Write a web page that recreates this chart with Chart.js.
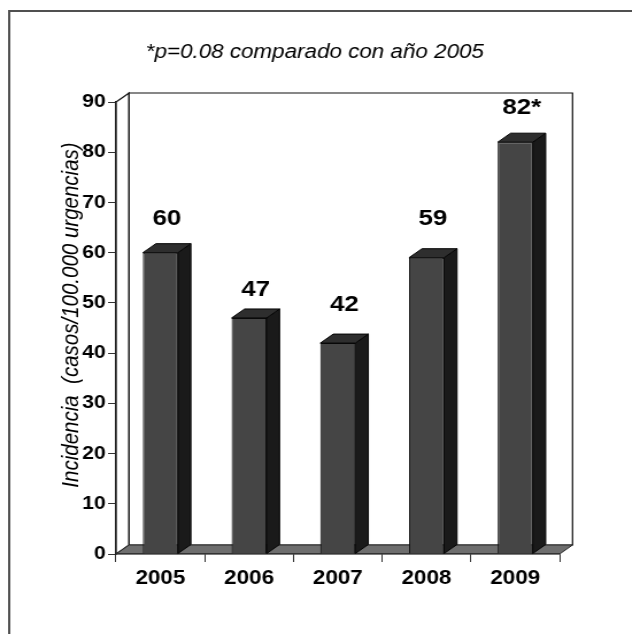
<!DOCTYPE html>
<html>
<head>
<meta charset="utf-8">
<script src="https://cdn.jsdelivr.net/npm/chart.js@4.4.1/dist/chart.umd.min.js"></script>
<style>
  html, body { margin: 0; padding: 0; background: #fff; overflow: hidden; }
  #wrap { width: 550px; height: 634px; transform: scaleX(1.149); transform-origin: 0 0; }
  canvas { display: block; }
</style>
</head>
<body>
<div id="wrap"><canvas id="c" width="550" height="634"></canvas></div>
<script>
// Incidence per year
const years = ['2005', '2006', '2007', '2008', '2009'];
const incidence = [60, 47, 42, 59, 82];
const significance = ['', '', '', '', '*'];

// Value axis
const yMin = 0;
const yMax = 90;
const yStep = 10;

const noteText = '*p=0.08 comparado con año 2005';
const yTitleText = 'Incidencia  (casos/100.000 urgencias)';

// 3D look
const DX = 11.3, DY = -9;
const labelLift = [34, 28, 38, 39, 34];
const FONT = '"Liberation Sans", Arial, sans-serif';

function poly(ctx, pts, fill, stroke, lw) {
  ctx.beginPath();
  ctx.moveTo(pts[0][0], pts[0][1]);
  for (let i = 1; i < pts.length; i++) ctx.lineTo(pts[i][0], pts[i][1]);
  ctx.closePath();
  if (fill) { ctx.fillStyle = fill; ctx.fill(); }
  if (stroke) { ctx.strokeStyle = stroke; ctx.lineWidth = lw || 1; ctx.stroke(); }
}

const box3d = {
  id: 'box3d',
  beforeDraw(chart) {
    const { ctx, chartArea: a } = chart;
    ctx.save();
    ctx.fillStyle = '#fff';
    ctx.fillRect(0, 0, chart.width, chart.height);

    // page frame
    ctx.strokeStyle = '#505050';
    ctx.lineWidth = 2;
    ctx.beginPath();
    ctx.moveTo(8, chart.height + 5);
    ctx.lineTo(8, 11);
    ctx.lineTo(chart.width + 5, 11);
    ctx.stroke();

    // note above the plot
    ctx.fillStyle = '#000';
    ctx.font = 'italic 19.5px ' + FONT;
    ctx.textAlign = 'center';
    ctx.textBaseline = 'middle';
    ctx.fillText(noteText, 274, 53);

    // value axis title
    ctx.save();
    ctx.translate(62.6, 315);
    ctx.rotate(-Math.PI / 2);
    ctx.font = 'italic 20.5px ' + FONT;
    ctx.fillText(yTitleText, 0, 0);
    ctx.restore();

    // side wall
    poly(ctx, [[a.left, a.top], [a.left + DX, a.top + DY], [a.left + DX, a.bottom + DY], [a.left, a.bottom]], '#fff', '#111', 1.2);
    // back wall
    poly(ctx, [[a.left + DX, a.top + DY], [a.right + DX, a.top + DY], [a.right + DX, a.bottom + DY], [a.left + DX, a.bottom + DY]], '#fff', '#111', 1.2);
    // floor
    poly(ctx, [[a.left, a.bottom], [a.right, a.bottom], [a.right + DX, a.bottom + DY], [a.left + DX, a.bottom + DY]], '#6e6e6e', '#2a2a2a', 1);
    ctx.restore();
  },
  afterDatasetsDraw(chart) {
    const { ctx } = chart;
    const meta = chart.getDatasetMeta(0);
    ctx.save();
    meta.data.forEach((bar, i) => {
      const { x, y, base, width } = bar.getProps(['x', 'y', 'base', 'width'], true);
      const l = x - width / 2, r = x + width / 2;
      // side face
      poly(ctx, [[r, y], [r + DX, y + DY], [r + DX, base + DY], [r, base]], '#1a1a1a', '#050505', 1);
      // top face
      poly(ctx, [[l, y], [l + DX, y + DY], [r + DX, y + DY], [r, y]], '#2e2e2e', '#050505', 1);
      // value label
      ctx.fillStyle = '#000';
      ctx.font = 'bold 22.5px ' + FONT;
      ctx.textAlign = 'center';
      ctx.textBaseline = 'middle';
      ctx.fillText(String(incidence[i]) + significance[i], x + DX / 2, y - labelLift[i]);
    });
    ctx.restore();
  }
};

new Chart(document.getElementById('c'), {
  type: 'bar',
  data: {
    labels: years,
    datasets: [{
      data: incidence,
      backgroundColor: '#454545',
      borderColor: '#0d0d0d',
      borderWidth: 1,
      barPercentage: 0.395,
      categoryPercentage: 1
    }]
  },
  options: {
    responsive: false,
    animation: false,
    events: [],
    layout: { padding: { left: 0, right: 63, top: 102, bottom: 40 } },
    plugins: { legend: { display: false }, tooltip: { enabled: false }, title: { display: false } },
    scales: {
      x: {
        grid: { drawOnChartArea: false, drawTicks: true, tickLength: 8, color: '#333', offset: true },
        border: { display: true, color: '#333', width: 1.2 },
        ticks: { color: '#000', padding: 5, font: { family: FONT, size: 19.5, weight: 'bold' } },
        afterFit(s) { s.height = 40; }
      },
      y: {
        min: yMin,
        max: yMax,
        grid: { drawOnChartArea: false, drawTicks: true, tickLength: 7, color: '#333' },
        border: { display: true, color: '#222', width: 1.3 },
        ticks: { stepSize: yStep, color: '#000', padding: 2, font: { family: FONT, size: 18.5, weight: 'bold' } },
        afterFit(s) { s.width = 101; }
      }
    }
  },
  plugins: [box3d]
});
</script>
</body>
</html>
